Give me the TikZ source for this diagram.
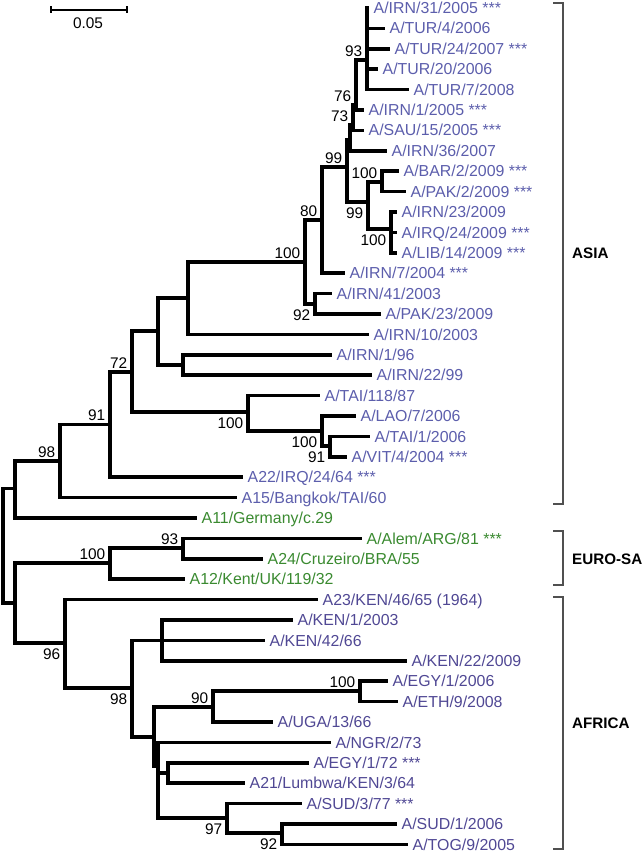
\documentclass[tikz,border=0pt]{standalone}
\usepackage{fontspec}
\setmainfont{Liberation Sans}
\definecolor{asiacol}{RGB}{92,94,172}
\definecolor{afrcol}{RGB}{80,72,148}
\definecolor{eurocol}{RGB}{58,138,48}
\definecolor{brkcol}{RGB}{80,80,80}
\begin{document}
\begin{tikzpicture}[x=1pt,y=-1pt,
  br/.style={line width=3.7pt, line join=miter, black},
  lf/.style={anchor=base west, inner sep=0pt, yshift=-5.6pt, font=\fontsize{15.9}{18}\selectfont},
  asia/.style={lf, text=asiacol},
  afr/.style={lf, text=afrcol},
  euro/.style={lf, text=eurocol},
  bA/.style={anchor=south east, inner sep=0pt, xshift=-4.5pt, yshift=3.5pt, font=\fontsize{15.4}{18}\selectfont},
  bB/.style={anchor=north east, inner sep=0pt, xshift=-4.5pt, yshift=-5.5pt, font=\fontsize{15.4}{18}\selectfont},
  brk/.style={line width=1.1pt, brkcol},
  region/.style={anchor=west, inner sep=0pt, font=\bfseries\fontsize{15.2}{18}\selectfont},
  scl/.style={line width=1.3pt, black}]
\useasboundingbox (0,0) rectangle (642,853);

% internal nodes (incoming points)
\coordinate (root) at (3,545);
\coordinate (nA) at (15,488.6);
\coordinate (nB) at (60,461);
\coordinate (nC) at (110,424.5);
\coordinate (nD) at (132,372);
\coordinate (nE) at (158,331);
\coordinate (nF) at (188,298);
\coordinate (nG) at (183,365);
\coordinate (nH) at (305,262);
\coordinate (nI) at (322,220);
\coordinate (nK) at (347,167);
\coordinate (nKb) at (350,140);
\coordinate (nP) at (353,125);
\coordinate (nQ) at (356,105);
\coordinate (nN) at (367,60);
\coordinate (nM) at (368,202);
\coordinate (nS) at (382,182);
\coordinate (nT) at (391,229);
\coordinate (nJ) at (315,303.8);
\coordinate (nV) at (248,412);
\coordinate (nU) at (322,431);
\coordinate (nW) at (330,446);
\coordinate (nEA) at (15,603);
\coordinate (nX) at (110,563);
\coordinate (nY) at (183,548);
\coordinate (nZ) at (65,643);
\coordinate (nAA) at (132,688);
\coordinate (nAB) at (162,640.4);
\coordinate (nAC) at (154,737);
\coordinate (nAD) at (213,707);
\coordinate (nAE) at (360,691);
\coordinate (nAF) at (158,766);
\coordinate (nAG) at (168,773);
\coordinate (nAH) at (227,818);
\coordinate (nAI) at (282,833);

% leaf tips
\coordinate (t1) at (369,8);
\coordinate (t2) at (385,28.4);
\coordinate (t3) at (390,48.8);
\coordinate (t4) at (378,69.2);
\coordinate (t5) at (409,89.6);
\coordinate (t6) at (364,110);
\coordinate (t7) at (364,130.4);
\coordinate (t8) at (387,150.8);
\coordinate (t9) at (399,171.2);
\coordinate (t10) at (406,191.6);
\coordinate (t11) at (397,212);
\coordinate (t12) at (397,232.4);
\coordinate (t13) at (397,252.8);
\coordinate (t14) at (345,273.2);
\coordinate (t15) at (332,293.6);
\coordinate (t16) at (381,314);
\coordinate (t17) at (369,334.4);
\coordinate (t18) at (332,354.8);
\coordinate (t19) at (372,375.2);
\coordinate (t20) at (320,395.6);
\coordinate (t21) at (356,416);
\coordinate (t22) at (370,436.4);
\coordinate (t23) at (347,456.8);
\coordinate (t24) at (243,477.2);
\coordinate (t25) at (237,497.6);
\coordinate (t26) at (197,518);
\coordinate (t27) at (362,538.4);
\coordinate (t28) at (263,558.8);
\coordinate (t29) at (185,579.2);
\coordinate (t30) at (318,599.6);
\coordinate (t31) at (293,620);
\coordinate (t32) at (265,640.4);
\coordinate (t33) at (407,660.8);
\coordinate (t34) at (388,681.2);
\coordinate (t35) at (398,701.6);
\coordinate (t36) at (273,722);
\coordinate (t37) at (331,742.4);
\coordinate (t38) at (309,762.8);
\coordinate (t39) at (245,783.2);
\coordinate (t40) at (302,803.6);
\coordinate (t41) at (397,824);
\coordinate (t42) at (408,844.4);

% branches
\foreach \p/\c in {root/nA, root/nEA,
  nA/nB, nA/t26, nB/nC, nB/t25, nC/nD, nC/t24,
  nD/nE, nD/nV, nE/nF, nE/nG, nF/nH, nF/t17, nG/t18, nG/t19,
  nH/nI, nH/nJ, nI/nK, nI/t14, nK/nKb, nK/nM, nKb/nP, nKb/t8,
  nP/nQ, nP/t7, nQ/nN, nQ/t6, nN/t1, nN/t2, nN/t3, nN/t4, nN/t5,
  nM/nS, nM/nT, nS/t9, nS/t10, nT/t11, nT/t12, nT/t13,
  nJ/t15, nJ/t16, nV/t20, nV/nU, nU/t21, nU/nW, nW/t22, nW/t23,
  nEA/nX, nEA/nZ, nX/nY, nX/t29, nY/t27, nY/t28,
  nZ/t30, nZ/nAA, nAA/nAB, nAA/nAC, nAB/t31, nAB/t32, nAB/t33,
  nAC/nAD, nAC/nAF, nAD/nAE, nAD/t36, nAE/t34, nAE/t35,
  nAF/t37, nAF/nAG, nAF/nAH, nAG/t38, nAG/t39, nAH/t40, nAH/nAI,
  nAI/t41, nAI/t42}
  \draw[br] (\p) |- (\c);

% leaf labels
\node[asia] (l1) at ([xshift=4.5pt]t1) {A/IRN/31/2005 ***};
\node[asia] (l2) at ([xshift=4.5pt]t2) {A/TUR/4/2006};
\node[asia] (l3) at ([xshift=4.5pt]t3) {A/TUR/24/2007 ***};
\node[asia] (l4) at ([xshift=4.5pt]t4) {A/TUR/20/2006};
\node[asia] (l5) at ([xshift=4.5pt]t5) {A/TUR/7/2008};
\node[asia] (l6) at ([xshift=4.5pt]t6) {A/IRN/1/2005 ***};
\node[asia] (l7) at ([xshift=4.5pt]t7) {A/SAU/15/2005 ***};
\node[asia] (l8) at ([xshift=4.5pt]t8) {A/IRN/36/2007};
\node[asia] (l9) at ([xshift=4.5pt]t9) {A/BAR/2/2009 ***};
\node[asia] (l10) at ([xshift=4.5pt]t10) {A/PAK/2/2009 ***};
\node[asia] (l11) at ([xshift=4.5pt]t11) {A/IRN/23/2009};
\node[asia] (l12) at ([xshift=4.5pt]t12) {A/IRQ/24/2009 ***};
\node[asia] (l13) at ([xshift=4.5pt]t13) {A/LIB/14/2009 ***};
\node[asia] (l14) at ([xshift=4.5pt]t14) {A/IRN/7/2004 ***};
\node[asia] (l15) at ([xshift=4.5pt]t15) {A/IRN/41/2003};
\node[asia] (l16) at ([xshift=4.5pt]t16) {A/PAK/23/2009};
\node[asia] (l17) at ([xshift=4.5pt]t17) {A/IRN/10/2003};
\node[asia] (l18) at ([xshift=4.5pt]t18) {A/IRN/1/96};
\node[asia] (l19) at ([xshift=4.5pt]t19) {A/IRN/22/99};
\node[asia] (l20) at ([xshift=4.5pt]t20) {A/TAI/118/87};
\node[asia] (l21) at ([xshift=4.5pt]t21) {A/LAO/7/2006};
\node[asia] (l22) at ([xshift=4.5pt]t22) {A/TAI/1/2006};
\node[asia] (l23) at ([xshift=4.5pt]t23) {A/VIT/4/2004 ***};
\node[asia] (l24) at ([xshift=4.5pt]t24) {A22/IRQ/24/64 ***};
\node[asia] (l25) at ([xshift=4.5pt]t25) {A15/Bangkok/TAI/60};
\node[euro] (l26) at ([xshift=4.5pt]t26) {A11/Germany/c.29};
\node[euro] (l27) at ([xshift=4.5pt]t27) {A/Alem/ARG/81 ***};
\node[euro] (l28) at ([xshift=4.5pt]t28) {A24/Cruzeiro/BRA/55};
\node[euro] (l29) at ([xshift=4.5pt]t29) {A12/Kent/UK/119/32};
\node[afr] (l30) at ([xshift=4.5pt]t30) {A23/KEN/46/65 (1964)};
\node[afr] (l31) at ([xshift=4.5pt]t31) {A/KEN/1/2003};
\node[afr] (l32) at ([xshift=4.5pt]t32) {A/KEN/42/66};
\node[afr] (l33) at ([xshift=4.5pt]t33) {A/KEN/22/2009};
\node[afr] (l34) at ([xshift=4.5pt]t34) {A/EGY/1/2006};
\node[afr] (l35) at ([xshift=4.5pt]t35) {A/ETH/9/2008};
\node[afr] (l36) at ([xshift=4.5pt]t36) {A/UGA/13/66};
\node[afr] (l37) at ([xshift=4.5pt]t37) {A/NGR/2/73};
\node[afr] (l38) at ([xshift=4.5pt]t38) {A/EGY/1/72 ***};
\node[afr] (l39) at ([xshift=4.5pt]t39) {A21/Lumbwa/KEN/3/64};
\node[afr] (l40) at ([xshift=4.5pt]t40) {A/SUD/3/77 ***};
\node[afr] (l41) at ([xshift=4.5pt]t41) {A/SUD/1/2006};
\node[afr] (l42) at ([xshift=4.5pt]t42) {A/TOG/9/2005};

% bootstrap values
\node[bA] (bN) at (nN) {93};
\node[bA] (bQ) at (nQ) {76};
\node[bA] (bP) at (nP) {73};
\node[bA] (bK) at (nK) {99};
\node[bB] (bM) at (nM) {99};
\node[bA] (bS) at (nS) {100};
\node[bB] (bT) at (nT) {100};
\node[bA] (bI) at (nI) {80};
\node[bA] (bH) at (nH) {100};
\node[bB] (bJ) at (nJ) {92};
\node[bA] (bD) at (nD) {72};
\node[bB] (bV) at (nV) {100};
\node[bB] (bU) at (nU) {100};
\node[bB] (bW) at (nW) {91};
\node[bA] (bC) at (nC) {91};
\node[bA] (bB) at (nB) {98};
\node[bA] (bX) at (nX) {100};
\node[bA] (bY) at (nY) {93};
\node[bB] (bZ) at (nZ) {96};
\node[bB] (bAA) at (nAA) {98};
\node[bA] (bAD) at (nAD) {90};
\node[bA] (bAE) at (nAE) {100};
\node[bB] (bAH) at (nAH) {97};
\node[bB] (bAI) at (nAI) {92};

% scale bar
\coordinate (s1) at (51,10);
\coordinate (s2) at (127,10);
\draw[scl] (s1) -- (s2);
\draw[scl] ([yshift=3.5pt]s1) -- ([yshift=-3.5pt]s1);
\draw[scl] ([yshift=3.5pt]s2) -- ([yshift=-3.5pt]s2);
\node[inner sep=0pt, font=\fontsize{15.4}{18}\selectfont] (slab) at (88,23) {0.05};

% region brackets
\coordinate (a1) at (563,3); \coordinate (a2) at (563,504);
\draw[brk] ([xshift=-10pt]a1) -- (a1) -- (a2) -- ([xshift=-10pt]a2);
\coordinate (e1) at (563,531); \coordinate (e2) at (563,585);
\draw[brk] ([xshift=-10pt]e1) -- (e1) -- (e2) -- ([xshift=-10pt]e2);
\coordinate (f1) at (563,597); \coordinate (f2) at (563,849);
\draw[brk] ([xshift=-10pt]f1) -- (f1) -- (f2) -- ([xshift=-10pt]f2);
\node[region] (rAsia) at (572,253) {ASIA};
\node[region] (rEuro) at (572,559) {EURO-SA};
\node[region] (rAfr) at (572,723) {AFRICA};
\end{tikzpicture}
\end{document}
